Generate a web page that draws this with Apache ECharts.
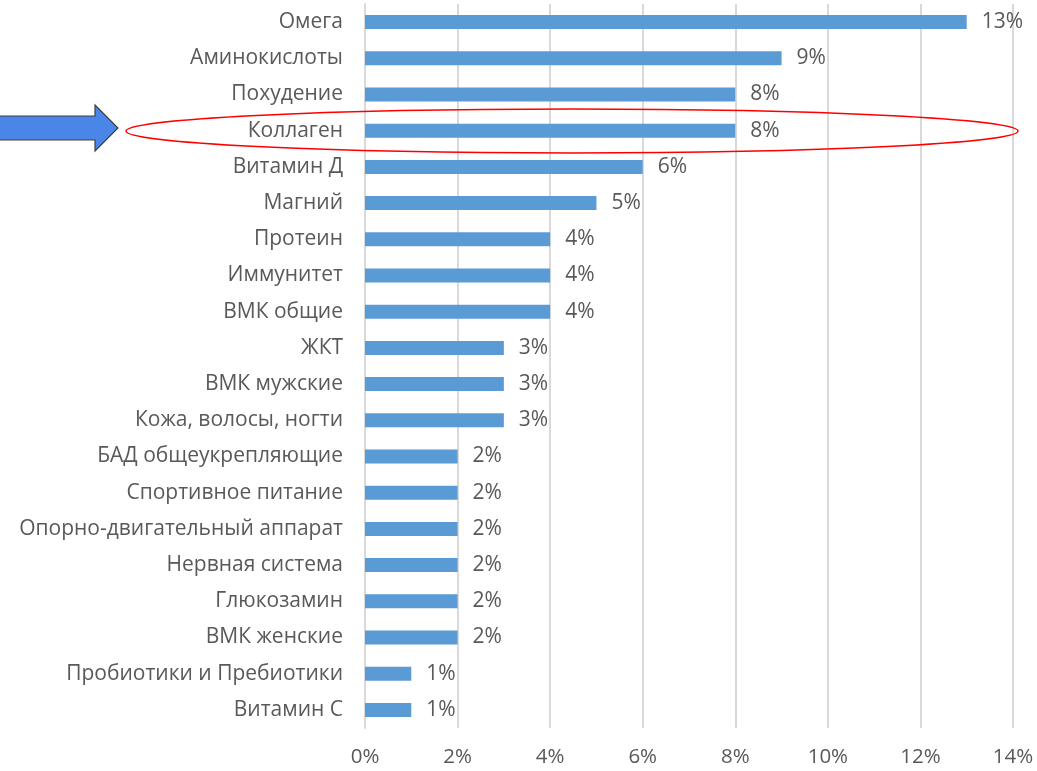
<!DOCTYPE html>
<html><head><meta charset="utf-8">
<script src="https://cdn.jsdelivr.net/npm/echarts@6/dist/echarts.min.js"></script>
<style>html,body{margin:0;padding:0;background:#fff}#c{width:1037px;height:771px}</style>
</head><body><div id="c"></div>
<script>
var categories = ["Омега","Аминокислоты","Похудение","Коллаген","Витамин Д","Магний","Протеин","Иммунитет","ВМК общие","ЖКТ","ВМК мужские","Кожа, волосы, ногти","БАД общеукрепляющие","Спортивное питание","Опорно-двигательный аппарат","Нервная система","Глюкозамин","ВМК женские","Пробиотики и Пребиотики","Витамин С"];
var values = [13,9,8,8,6,5,4,4,4,3,3,3,2,2,2,2,2,2,1,1];
var xTicks = [0,2,4,6,8,10,12,14];

var chart = echarts.init(document.getElementById('c'));
var font = 'Open Sans, Noto Sans, sans-serif';
chart.setOption({
  animation:false,
  grid:{left:365,right:24,top:4,bottom:43,containLabel:false},
  xAxis:{type:'value',min:0,max:14,interval:2,
    axisLine:{show:false},axisTick:{show:false},
    axisLabel:{formatter:function(v){return v+'%';},color:'#595959',fontSize:20.5,fontFamily:font,margin:19},
    splitLine:{show:true,lineStyle:{color:'#d9d9d9',width:2}}},
  yAxis:{type:'category',data:categories,inverse:true,
    axisLine:{show:true,lineStyle:{color:'#d9d9d9',width:2}},axisTick:{show:false},
    axisLabel:{color:'#595959',fontSize:21,fontFamily:font,margin:22}},
  series:[{type:'bar',data:values,barWidth:14,itemStyle:{color:'#5b9bd5'},
    label:{show:true,position:'right',distance:15,formatter:'{c}%',color:'#595959',fontSize:21,fontFamily:font}}],
  graphic:[
    {type:'ellipse',shape:{cx:572,cy:131,rx:446,ry:22},style:{fill:'none',stroke:'#ff0000',lineWidth:1.5},z:10},
    {type:'polygon',shape:{points:[[-2,116],[95,116],[95,105],[118,128],[95,151],[95,140],[-2,140]]},
      style:{fill:'#4a86e8',stroke:'#404040',lineWidth:1.2},z:10}
  ]
});
</script></body></html>
